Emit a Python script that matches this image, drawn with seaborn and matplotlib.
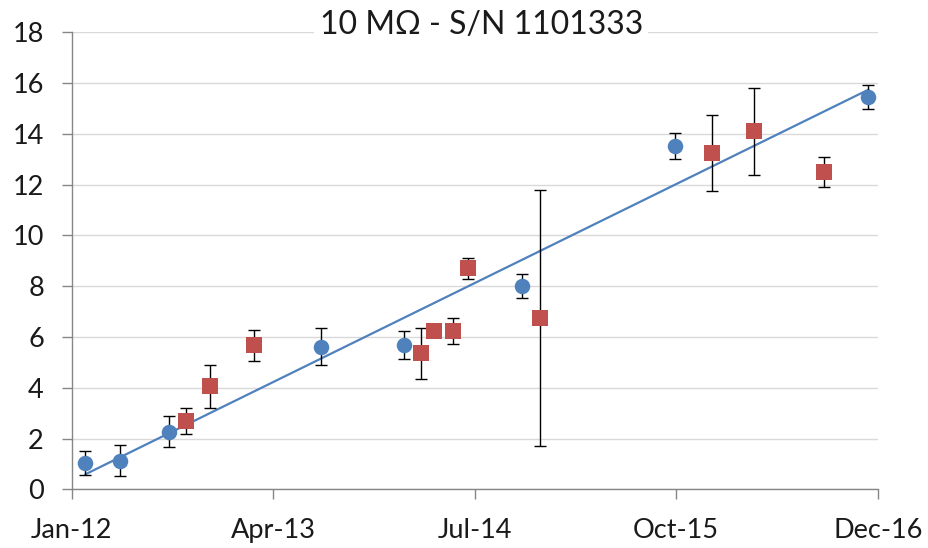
import numpy as np
import pandas as pd
import seaborn as sns
import matplotlib
matplotlib.use("Agg")
import matplotlib.pyplot as plt
import matplotlib.dates as mdates

# serie blu (cerchi) - letture con incertezza
blue_dates = ["2012-02-01", "2012-04-19", "2012-08-08", "2013-07-19",
              "2014-01-23", "2014-10-18", "2015-09-28", "2016-12-10"]
blue_vals = [1.05, 1.13, 2.27, 5.62, 5.67, 8.01, 13.53, 15.46]
blue_err = [0.47, 0.61, 0.62, 0.73, 0.55, 0.48, 0.51, 0.48]

# serie rossa (quadrati)
red_dates = ["2012-09-15", "2012-11-09", "2013-02-18", "2014-03-02",
             "2014-04-01", "2014-05-14", "2014-06-17", "2014-11-27",
             "2015-12-21", "2016-03-26", "2016-09-01"]
red_vals = [2.70, 4.06, 5.67, 5.36, 6.23, 6.23, 8.70, 6.75, 13.25, 14.10, 12.50]
red_err = [0.51, 0.85, 0.60, 1.01, 0.0, 0.50, 0.40, 5.04, 1.49, 1.71, 0.60]

tick_labels = ["Jan-12", "Apr-13", "Jul-14", "Oct-15", "Dec-16"]
title = "10 M\u03a9 - S/N 1101333"

blue = pd.DataFrame({"date": mdates.date2num(pd.to_datetime(blue_dates)),
                     "val": blue_vals, "err": blue_err})
red = pd.DataFrame({"date": mdates.date2num(pd.to_datetime(red_dates)),
                    "val": red_vals, "err": red_err})

sns.set_theme(style="white")
plt.rcParams["font.family"] = ["Lato", "DejaVu Sans"]

BLUE = "#4F81BD"
RED = "#C0504D"
GRAY = "#868686"

fig = plt.figure(figsize=(9.29, 5.48), dpi=100)
ax = fig.add_axes([0.0772, 0.1071, 0.8676, 0.8340])

# griglia orizzontale
ax.set_axisbelow(True)
ax.yaxis.grid(True, color="#D9D9D9", linewidth=1)

# linea di tendenza (regressione lineare sulla serie blu)
sns.regplot(data=blue, x="date", y="val", scatter=False, ci=None,
            truncate=True, ax=ax,
            line_kws={"color": BLUE, "linewidth": 1.6, "zorder": 2})

# barre di errore
ax.errorbar(blue["date"], blue["val"], yerr=blue["err"], fmt="none",
            ecolor="black", elinewidth=1, capsize=4.5, capthick=1, zorder=3)
ax.errorbar(red["date"], red["val"], yerr=red["err"], fmt="none",
            ecolor="black", elinewidth=1, capsize=4.5, capthick=1, zorder=3)

# punti
sns.scatterplot(data=blue, x="date", y="val", marker="o", s=125,
                color=BLUE, linewidth=0, ax=ax, zorder=4)
sns.scatterplot(data=red, x="date", y="val", marker="s", s=118,
                color=RED, linewidth=0, ax=ax, zorder=4)

x0 = mdates.date2num(pd.Timestamp("2012-01-01"))
x1 = mdates.date2num(pd.Timestamp("2016-12-31"))
ax.set_xlim(x0, x1)
ax.set_ylim(0, 18)
ax.set_xticks(np.linspace(x0, x1, 5))
ax.set_xticklabels(tick_labels)
ax.set_yticks(np.arange(0, 19, 2))
ax.set_xlabel("")
ax.set_ylabel("")

for s in ["top", "right"]:
    ax.spines[s].set_visible(False)
for s in ["left", "bottom"]:
    ax.spines[s].set_color(GRAY)
    ax.spines[s].set_linewidth(1)

ax.tick_params(axis="both", which="major", direction="out", length=7,
               width=1, color=GRAY, labelsize=19.5, labelcolor="#1a1a1a")
ax.tick_params(axis="y", pad=13)
ax.tick_params(axis="x", pad=14)
ax.xaxis.set_ticks_position("bottom")
ax.yaxis.set_ticks_position("left")

fig.text(0.518, 0.955, title, ha="center", va="center", fontsize=23,
         color="#1a1a1a",
         bbox=dict(facecolor="white", edgecolor="none", pad=4))

fig.savefig("out.png", dpi=100)
